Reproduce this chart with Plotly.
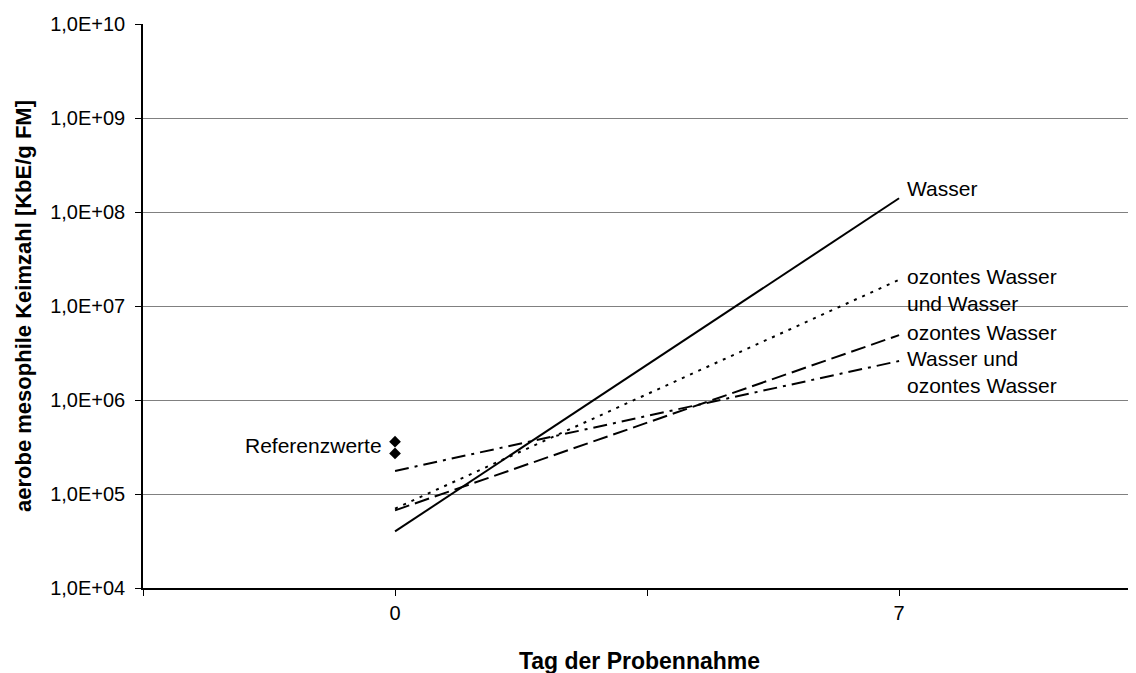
import plotly.graph_objects as go

# Data
days = [0, 7]
wasser = [4.0e4, 1.4e8]
ozon_und_wasser = [7.0e4, 1.9e7]
ozon_wasser = [6.7e4, 4.9e6]
wasser_und_ozon = [1.76e5, 2.6e6]
ref_days = [0, 0]
ref_values = [3.6e5, 2.7e5]

y_tickvals = [1e4, 1e5, 1e6, 1e7, 1e8, 1e9, 1e10]
y_ticktext = ["1,0E+04", "1,0E+05", "1,0E+06", "1,0E+07", "1,0E+08", "1,0E+09", "1,0E+10"]
x_tickvals = [-3.5, 0, 3.5, 7]
x_ticktext = ["", "0", "", "7"]

FONT = "Liberation Sans, Arial, sans-serif"

fig = go.Figure()
series = [
    ("Wasser", wasser, "solid"),
    ("ozontes Wasser und Wasser", ozon_und_wasser, "3px,6px"),
    ("ozontes Wasser", ozon_wasser, "15px,6px"),
    ("Wasser und ozontes Wasser", wasser_und_ozon, "14px,6px,3px,6px"),
]
for name, vals, dash in series:
    fig.add_trace(go.Scatter(x=days, y=vals, mode="lines", name=name,
                             line=dict(color="black", width=2, dash=dash),
                             showlegend=False, cliponaxis=False))

fig.add_trace(go.Scatter(x=ref_days, y=ref_values, mode="markers", name="Referenzwerte",
                         marker=dict(symbol="diamond", color="black", size=9),
                         showlegend=False))

labels = [
    ("Wasser", 7.08, 8.245, "left"),
    ("ozontes Wasser<br>und Wasser", 7.08, 7.17, "left"),
    ("ozontes Wasser", 7.08, 6.713, "left"),
    ("Wasser und<br>ozontes Wasser", 7.08, 6.303, "left"),
    ("Referenzwerte", -0.15, 5.52, "right"),
]
for text, x, y, anchor in labels:
    fig.add_annotation(x=x, y=y, xref="x", yref="y", text=text, showarrow=False,
                       xanchor=anchor, yanchor="middle", align="left",
                       font=dict(family=FONT, size=21, color="black"))

fig.update_layout(
    width=1136, height=673,
    margin=dict(l=135, r=8, t=16, b=93, autoexpand=False),
    paper_bgcolor="white", plot_bgcolor="white",
    font=dict(family=FONT, size=20, color="black"),
)
fig.update_xaxes(
    range=[-3.5, 10.29], tickvals=x_tickvals, ticktext=x_ticktext,
    showgrid=False, zeroline=False, showline=True, linecolor="black", linewidth=2,
    ticks="outside", ticklen=6, tickcolor="black", automargin=False,
    tickfont=dict(family=FONT, size=20),
    title=dict(text="<b>Tag der Probennahme</b>", font=dict(family=FONT, size=23), standoff=30),
)
fig.update_yaxes(
    type="log", range=[4, 10], tickvals=y_tickvals, ticktext=y_ticktext,
    showgrid=True, gridcolor="#808080", gridwidth=1,
    zeroline=False, showline=True, linecolor="black", linewidth=1.5,
    ticks="outside", ticklen=6, tickcolor="black", automargin=False,
    tickfont=dict(family=FONT, size=20), ticklabelstandoff=6,
    title=dict(text="<b>aerobe mesophile Keimzahl [KbE/g FM]</b>", font=dict(family=FONT, size=22), standoff=12),
)

fig.write_html("out.html")
